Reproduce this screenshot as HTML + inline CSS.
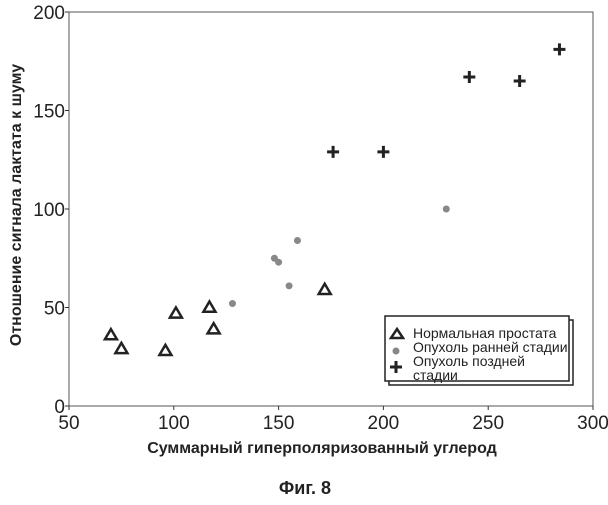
<!DOCTYPE html>
<html><head><meta charset="utf-8"><style>
body{margin:0;background:#fff;width:608px;height:500px;overflow:hidden;font-family:"Liberation Sans",sans-serif}
</style></head><body>
<svg id="c" width="608" height="500" font-family="Liberation Sans, sans-serif"></svg>
<script>
const xTicks=[50,100,150,200,250,300];
const yTicks=[0,50,100,150,200];
const normalX=[70,75,96,101,117,119,172];
const normalY=[36,29,28,47,50,39,59];
const earlyX=[128,148,150,155,159,230];
const earlyY=[52,75,73,61,84,100];
const lateX=[176,200,241,265,284];
const lateY=[129,129,167,165,181];
const L=69,R=593,T=12,B=406;
const sx=v=>L+(v-50)/250*(R-L);
const sy=v=>B-v/200*(B-T);
const svg=document.getElementById('c');
const NS='http://www.w3.org/2000/svg';
function mk(tag,attrs,parent){const e=document.createElementNS(NS,tag);for(const k in attrs)e.setAttribute(k,attrs[k]);(parent||svg).appendChild(e);return e;}
let e=mk('rect',{x:L,y:T,width:R-L,height:B-T,fill:'none',stroke:'#555','stroke-width':1});


xTicks.forEach(v=>{
 mk('line',{x1:sx(v),x2:sx(v),y1:B,y2:B+4,stroke:'#333'});
 const t=mk('text',{x:sx(v),y:B+23,'text-anchor':'middle','font-size':19,fill:'#222'});t.textContent=v;
 
 
});
yTicks.forEach(v=>{
 mk('line',{x1:L-4,x2:L,y1:sy(v),y2:sy(v),stroke:'#333'});
 const t=mk('text',{x:L-4,y:sy(v)+7,'text-anchor':'end','font-size':19,fill:'#222'});t.textContent=v;
 
 
});
function tri(x,y){const s=6;return mk('path',{d:`M${x},${y-s} L${x+s},${y+s*0.7} L${x-s},${y+s*0.7} Z`,fill:'none',stroke:'#222','stroke-width':2.5});}
function plus(x,y){return mk('path',{d:`M${x-6},${y} H${x+6} M${x},${y-6} V${y+6}`,stroke:'#222','stroke-width':3});}
normalX.forEach((v,i)=>{const p=tri(sx(v),sy(normalY[i]));
 
 });
earlyX.forEach((v,i)=>{const p=mk('circle',{cx:sx(v),cy:sy(earlyY[i]),r:3.5,fill:'#888'});
 
 });
lateX.forEach((v,i)=>{const p=plus(sx(v),sy(lateY[i]));
 
 });
</script>
<svg width="608" height="500" style="position:absolute;left:0;top:0" font-family="Liberation Sans, sans-serif">
<g>
<rect x="389" y="320" width="184" height="65" fill="#fff" stroke="#222" stroke-width="1.5"/>
<rect x="385" y="316" width="184" height="65" fill="#fff" stroke="#222" stroke-width="1.5"/>
<path d="M397,329 L403,338 L391,338 Z" fill="none" stroke="#222" stroke-width="2.5"/>
<text x="413" y="338" font-size="14" fill="#222">Нормальная простата</text>
<circle cx="396" cy="351" r="3.5" fill="#888"/>
<text x="413" y="352" font-size="14" fill="#222">Опухоль ранней стадии</text>
<path d="M390,367 H402 M396,361 V373" stroke="#222" stroke-width="3"/>
<text x="413" y="366" font-size="14" fill="#222">Опухоль поздней</text>
<text x="413" y="380" font-size="14" fill="#222">стадии</text>
</g>
<text transform="translate(21,205) rotate(-90)" text-anchor="middle" font-size="16" font-weight="bold" fill="#222">Отношение сигнала лактата к шуму</text>
<text x="322" y="453" text-anchor="middle" font-size="16" font-weight="bold" fill="#222">Суммарный гиперполяризованный углерод</text>
<text x="305" y="494" text-anchor="middle" font-size="18" font-weight="bold" fill="#222">Фиг. 8</text>
</svg>
</body></html>
